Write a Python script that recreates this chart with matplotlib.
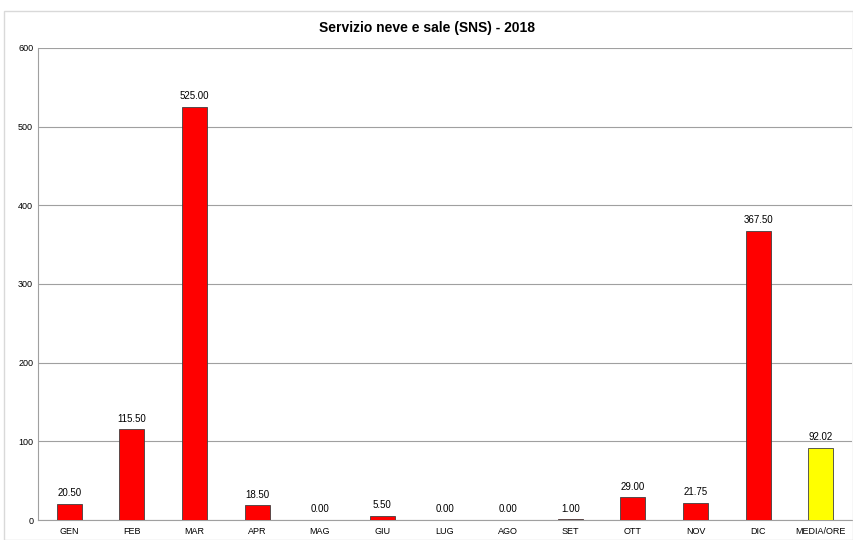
import matplotlib
matplotlib.use('Agg')
import matplotlib.pyplot as plt
from matplotlib.patches import Rectangle

mesi = ['GEN', 'FEB', 'MAR', 'APR', 'MAG', 'GIU', 'LUG', 'AGO', 'SET', 'OTT', 'NOV', 'DIC', 'MEDIA/ORE']
ore = [20.50, 115.50, 525.00, 18.50, 0.00, 5.50, 0.00, 0.00, 1.00, 29.00, 21.75, 367.50, 92.02]
colori = ['#FF0000'] * 12 + ['#FFFF00']

plt.rcParams['font.family'] = ['Liberation Sans Narrow', 'Liberation Sans', 'DejaVu Sans']

fig = plt.figure(figsize=(8.54, 5.40), dpi=100)
# bordo area grafico
fig.patches.append(Rectangle((4/854, 0.5/540), 849/854, 529/540, transform=fig.transFigure,
                             fill=False, edgecolor='#D9D9D9', linewidth=1))

ax = fig.add_axes([38/854, 20/540, 814/854, 472/540])
x = list(range(len(mesi)))
bars = ax.bar(x, ore, width=0.4, color=colori, edgecolor='#404040', linewidth=0.6, zorder=3)

for b, v in zip(bars, ore):
    ax.text(b.get_x() + b.get_width()/2, v + 7, '%.2f' % v, ha='center', va='bottom', fontsize=7)

ax.set_xlim(-0.5, len(mesi) - 0.5)
ax.set_ylim(0, 600)
ax.set_yticks(range(0, 601, 100))
ax.set_xticks(x)
ax.set_xticklabels(mesi)
ax.tick_params(axis='both', length=0, labelsize=6.5)
ax.tick_params(axis='x', pad=5)
ax.grid(axis='y', color='#A0A0A0', linewidth=0.8, zorder=0)
for s in ['top', 'right']:
    ax.spines[s].set_visible(False)
ax.spines['left'].set_color('#A0A0A0')
ax.spines['bottom'].set_color('#A0A0A0')

fig.text(0.5, 1 - 28/540, 'Servizio neve e sale (SNS) - 2018', ha='center', va='center',
         fontsize=10, fontweight='bold')

plt.savefig('out.png', dpi=100)
